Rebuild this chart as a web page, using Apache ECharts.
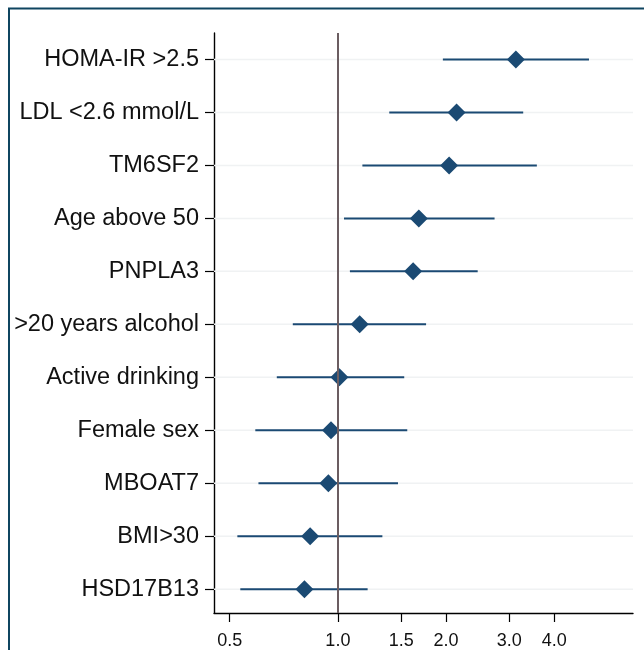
<!DOCTYPE html>
<html>
<head>
<meta charset="utf-8">
<script src="https://cdn.jsdelivr.net/npm/echarts@6/dist/echarts.min.js"></script>
<style>
  html, body { margin: 0; padding: 0; background: #fff; }
  #chart { width: 644px; height: 650px; }
</style>
</head>
<body>
<div id="chart"></div>
<script>
// Risk factors, top to bottom
const factors = [
  'HOMA-IR >2.5', 'LDL <2.6 mmol/L', 'TM6SF2', 'Age above 50', 'PNPLA3',
  '>20 years alcohol', 'Active drinking', 'Female sex', 'MBOAT7', 'BMI>30', 'HSD17B13'
];
// Point estimates and 95% confidence limits
const estimate = [3.13, 2.14, 2.04, 1.68, 1.62, 1.15, 1.01, 0.957, 0.941, 0.837, 0.807];
const ciLower  = [1.96, 1.39, 1.17, 1.04, 1.08, 0.749, 0.676, 0.589, 0.601, 0.525, 0.535];
const ciUpper  = [5.00, 3.28, 3.58, 2.73, 2.45, 1.76, 1.53, 1.56, 1.47, 1.33, 1.21];
// Tick values on the ratio axis
const xTicks = [0.5, 1.0, 1.5, 2.0, 3.0, 4.0];
const xMin = 0.452, xMax = 6.63;
const nullValue = 1.0;
// Row positions (index 0 at top) and the row axis extent
const rows = factors.map((f, i) => i);
const rowMin = -0.5, rowMax = 10.45;

const markColor = '#1b4a73';
const fontFamily = '"Liberation Sans", Arial, Helvetica, sans-serif';

const chart = echarts.init(document.getElementById('chart'), null, { renderer: 'canvas' });

const ciData = rows.map(i => [ciLower[i], ciUpper[i], i]);
const pointData = rows.map(i => [estimate[i], i]);

chart.setOption({
  animation: false,
  backgroundColor: '#ffffff',
  grid: { left: 214, top: 33, right: 11, bottom: 37, containLabel: false },
  xAxis: {
    type: 'log',
    logBase: 10,
    min: xMin,
    max: xMax,
    axisLine: { show: true, onZero: false, lineStyle: { color: '#000', width: 1.4 } },
    axisTick: { show: true, length: 9, customValues: xTicks, lineStyle: { color: '#000', width: 1.2 } },
    axisLabel: {
      customValues: xTicks,
      formatter: v => Number(v).toFixed(1),
      fontSize: 18, color: '#111', fontFamily: fontFamily, margin: 19
    },
    splitLine: { show: false },
    minorTick: { show: false },
    minorSplitLine: { show: false }
  },
  yAxis: {
    type: 'value',
    inverse: true,
    min: rowMin,
    max: rowMax,
    axisLine: { show: true, onZero: false, lineStyle: { color: '#000', width: 1.4 } },
    axisTick: { show: true, length: 9, customValues: rows, lineStyle: { color: '#000', width: 1.2 } },
    axisLabel: {
      customValues: rows,
      formatter: v => factors[Math.round(v)] || '',
      fontSize: 23.5, color: '#111', fontFamily: fontFamily, margin: 15
    },
    splitLine: { show: false }
  },
  graphic: [{
    type: 'rect',
    shape: { x: 9, y: 8.5, width: 800, height: 800 },
    style: { fill: null, stroke: '#0f4560', lineWidth: 2 },
    z: 100
  }],
  series: [
    {
      // faint row guide lines
      type: 'custom',
      data: ciData,
      encode: { x: [0, 1], y: 2 },
      z: 1,
      silent: true,
      renderItem: (params, api) => {
        const y = api.coord([1, api.value(2)])[1];
        const cs = params.coordSys;
        return {
          type: 'line',
          shape: { x1: cs.x, y1: y, x2: cs.x + cs.width, y2: y },
          style: { stroke: '#f0f2f3', lineWidth: 1.5 }
        };
      }
    },
    {
      // null line at ratio 1
      type: 'line',
      data: [],
      z: 2,
      markLine: {
        silent: true,
        symbol: ['none', 'none'],
        label: { show: false },
        lineStyle: { color: '#6b5d61', width: 2, type: 'solid' },
        data: [{ xAxis: nullValue }]
      }
    },
    {
      // confidence intervals
      type: 'custom',
      data: ciData,
      encode: { x: [0, 1], y: 2 },
      z: 3,
      renderItem: (params, api) => {
        const p1 = api.coord([api.value(0), api.value(2)]);
        const p2 = api.coord([api.value(1), api.value(2)]);
        return {
          type: 'line',
          shape: { x1: p1[0], y1: p1[1], x2: p2[0], y2: p2[1] },
          style: { stroke: markColor, lineWidth: 2 }
        };
      }
    },
    {
      // point estimates
      type: 'scatter',
      data: pointData,
      symbol: 'diamond',
      symbolSize: 18,
      z: 4,
      itemStyle: { color: markColor, opacity: 1 }
    }
  ]
});
</script>
</body>
</html>
